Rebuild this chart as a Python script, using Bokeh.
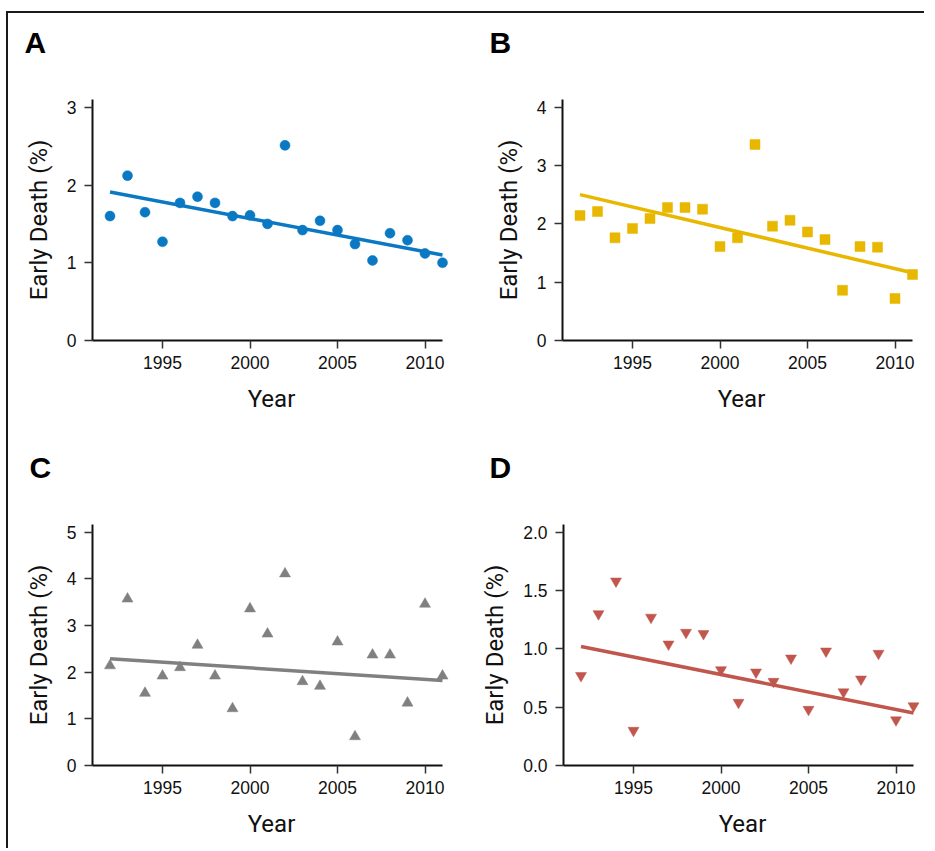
from bokeh.plotting import figure
from bokeh.layouts import column, row
from bokeh.models import FixedTicker, PrintfTickFormatter, Range1d
from bokeh.core.properties import value
from bokeh.embed import file_html
from bokeh.resources import INLINE

# ---------------- data ----------------
years = [1992, 1993, 1994, 1995, 1996, 1997, 1998, 1999, 2000, 2001,
         2002, 2003, 2004, 2005, 2006, 2007, 2008, 2009, 2010, 2011]

death_a = [1.60, 2.12, 1.65, 1.27, 1.77, 1.85, 1.77, 1.60, 1.61, 1.50,
           2.51, 1.42, 1.54, 1.42, 1.24, 1.03, 1.38, 1.29, 1.12, 1.00]
death_b = [2.14, 2.21, 1.76, 1.92, 2.09, 2.28, 2.28, 2.25, 1.61, 1.76,
           3.36, 1.96, 2.06, 1.86, 1.73, 0.86, 1.61, 1.60, 0.72, 1.13]
death_c = [2.14, 3.57, 1.55, 1.92, 2.10, 2.58, 1.92, 1.22, 3.36, 2.82,
           4.11, 1.80, 1.70, 2.65, 0.62, 2.37, 2.37, 1.34, 3.46, 1.92]
death_d = [0.77, 1.30, 1.58, 0.30, 1.27, 1.04, 1.14, 1.13, 0.82, 0.54,
           0.80, 0.72, 0.92, 0.48, 0.98, 0.63, 0.74, 0.96, 0.39, 0.51]

fit_years = [1992, 2011]
fit_a = [1.91, 1.10]
fit_b = [2.50, 1.16]
fit_c = [2.29, 1.82]
fit_d = [1.02, 0.45]

x_ticks = [1995, 2000, 2005, 2010]
y_ticks_a = [0, 1, 2, 3]
y_ticks_b = [0, 1, 2, 3, 4]
y_ticks_c = [0, 1, 2, 3, 4, 5]
y_ticks_d = [0.0, 0.5, 1.0, 1.5, 2.0]

panel_letters = ["A", "B", "C", "D"]
x_label = "Year"
y_label = "Early Death (%)"

# ---------------- styling ----------------
LABEL_FONT = "Roboto"
TICK_FONT = "Liberation Sans"
PX_PER_YEAR = 17.5
FRAME_W = 358
FRAME_H = 241
LETTER_H = 62


def letter_strip(letter, width, dx):
    s = figure(width=width, height=LETTER_H, output_backend="svg",
               toolbar_location=None, x_axis_type=None, y_axis_type=None,
               x_range=Range1d(0, width), y_range=Range1d(LETTER_H, 0),
               min_border=0)
    s.outline_line_color = None
    s.grid.visible = False
    s.background_fill_color = "white"
    s.border_fill_color = "white"
    s.text(x=[dx], y=[29], text=[letter], text_font=value("Liberation Sans"),
           text_font_style="bold", text_font_size="30px", text_color="#000000",
           text_baseline="alphabetic", text_align="left")
    return s


def make_panel(values, fit, color, marker, msize, y_ticks, y_top, fmt,
               width, height, mb_right, mb_bottom):
    x_start = 1991
    p = figure(width=width, height=height, output_backend="svg",
               toolbar_location=None, frame_width=FRAME_W, frame_height=FRAME_H,
               x_range=Range1d(x_start, x_start + FRAME_W / PX_PER_YEAR),
               y_range=Range1d(0, y_top),
               min_border_left=84, min_border_top=86 - LETTER_H,
               min_border_right=mb_right, min_border_bottom=mb_bottom)
    p.outline_line_color = None
    p.grid.visible = False
    p.background_fill_color = "white"
    p.border_fill_color = "white"

    p.line(fit_years, fit, line_color=color, line_width=3.5)
    p.scatter(years, values, marker=marker, size=msize,
              fill_color=color, line_color=color, line_width=0.5)

    for ax in (p.xaxis[0], p.yaxis[0]):
        ax.axis_line_color = "#111111"
        ax.axis_line_width = 2
        ax.major_tick_line_color = "#333333"
        ax.major_tick_line_width = 1.5
        ax.major_tick_out = 8
        ax.major_tick_in = 0
        ax.minor_tick_line_color = None
        ax.major_label_text_font = TICK_FONT
        ax.major_label_text_font_size = "17.5px"
        ax.major_label_text_color = "#111111"
        ax.axis_label_text_font = LABEL_FONT
        ax.axis_label_text_font_size = "24px"
        ax.axis_label_text_font_style = "normal"
        ax.axis_label_text_color = "#111111"

    p.xaxis.ticker = FixedTicker(ticks=x_ticks)
    p.xaxis.bounds = (1991, 2011)
    p.xaxis.axis_label = x_label
    p.xaxis.major_label_standoff = 7
    p.xaxis.axis_label_standoff = 13

    p.yaxis.ticker = FixedTicker(ticks=y_ticks)
    p.yaxis.formatter = PrintfTickFormatter(format=fmt)
    p.yaxis.axis_label = y_label
    p.yaxis.major_label_standoff = 8
    p.yaxis.axis_label_standoff = 11
    return p


la = letter_strip(panel_letters[0], 470, 16)
lb = letter_strip(panel_letters[1], 445, 11)
lc = letter_strip(panel_letters[2], 470, 21)
ld = letter_strip(panel_letters[3], 445, 11)

pa = make_panel(death_a, fit_a, "#0a78c2", "circle", 10,
                y_ticks_a, 3.1, "%d", 470, 425 - LETTER_H, 28, 98)
pb = make_panel(death_b, fit_b, "#e8b700", "square", 10,
                y_ticks_b, 4.13, "%d", 445, 425 - LETTER_H, 3, 98)
pc = make_panel(death_c, fit_c, "#808080", "triangle", 11,
                y_ticks_c, 5.165, "%d", 470, 410 - LETTER_H, 28, 83)
pd = make_panel(death_d, fit_d, "#c0564c", "inverted_triangle", 11,
                y_ticks_d, 2.066, "%.1f", 445, 410 - LETTER_H, 3, 83)

layout = column(row(la, lb), row(pa, pb), row(lc, ld), row(pc, pd),
                spacing=0,
                styles={"border-top": "2px solid #1a1a1a",
                        "border-left": "2px solid #1a1a1a",
                        "margin-top": "11px",
                        "margin-left": "6px"})

with open("out.html", "w") as f:
    f.write(file_html(layout, INLINE))
